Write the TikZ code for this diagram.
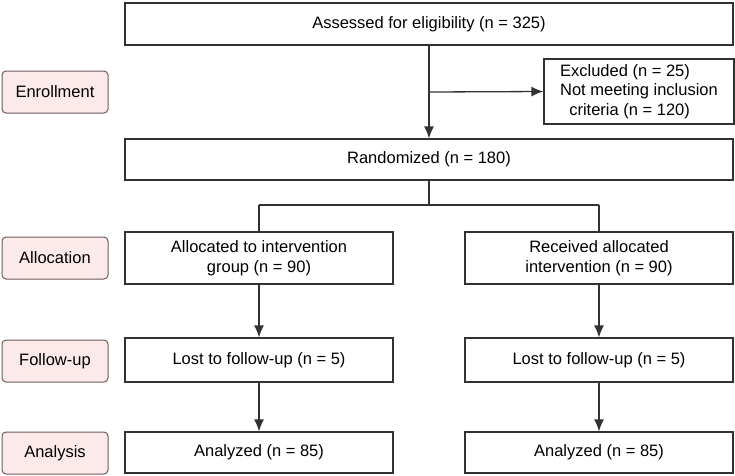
\documentclass[tikz,border=0pt]{standalone}
\usepackage{fontspec}
\setmainfont{Liberation Sans}
\usetikzlibrary{positioning, arrows.meta}
\definecolor{stagefill}{RGB}{252,234,234}
\definecolor{stagedraw}{RGB}{110,90,90}
\definecolor{linegray}{RGB}{50,50,50}

\begin{document}
\begin{tikzpicture}[
    x=1pt, y=-1pt,
    font=\fontsize{16.5}{19.5}\selectfont,
    every node/.style={inner sep=2pt, align=center},
    box/.style={draw=linegray, line width=1.2pt, minimum height=42pt},
    stage/.style={draw=stagedraw, line width=1pt, fill=stagefill, rounded corners=4pt,
                  minimum width=106pt, minimum height=42pt},
    every edge/.append style={line width=1.3pt, draw=linegray, >={Latex[length=12pt,width=10pt]}}
]
   \useasboundingbox (0,0) rectangle (735,475);

   % Stages on the left
   \node[stage] (enroll) at (55,92) {Enrollment};
   \node[stage] (alloc)  at (55,258) {Allocation};
   \node[stage] (follow) at (55,361) {Follow-up};
   \node[stage] (analys) at (55,453) {Analysis};

   % Main boxes
   \node[box, minimum width=608pt] (assess) at (429,24) {Assessed for eligibility (n = 325)};
   \node[box, minimum width=190pt, minimum height=65pt, align=left] (excl) at (639,91.5)
        {Excluded (n = 25)\\Not meeting inclusion\\\ \ criteria (n = 120)};
   \node[box, minimum width=608pt, minimum height=41pt] (rand) at (429,159.5) {Randomized (n = 180)};

   \node[box, minimum width=268pt, minimum height=52pt] (allocL) at (259,258)
        {Allocated to intervention\\group (n = 90)};
   \node[box, minimum width=268pt, minimum height=52pt] (allocR) at (599,258)
        {Received allocated\\intervention (n = 90)};
   \node[box, minimum width=268pt, minimum height=44pt] (lostL) at (259,360) {Lost to follow-up (n = 5)};
   \node[box, minimum width=268pt, minimum height=44pt] (lostR) at (599,360) {Lost to follow-up (n = 5)};
   \node[box, minimum width=268pt, minimum height=41pt] (anaL) at (259,452.5) {Analyzed (n = 85)};
   \node[box, minimum width=268pt, minimum height=41pt] (anaR) at (599,452.5) {Analyzed (n = 85)};

   \coordinate (branch) at (429,92);
   \coordinate (split) at (429,205);
   \coordinate (splitL) at (259,205);
   \coordinate (splitR) at (599,205);

   % Transitions
   \path[->]
   (assess) edge (rand)
   (branch) edge (excl.west)
   (allocL) edge (lostL)
   (allocR) edge (lostR)
   (lostL) edge (anaL)
   (lostR) edge (anaR);

   \path
   (rand) edge (split)
   (splitL) edge (splitR)
   (splitL) edge (allocL)
   (splitR) edge (allocR);
\end{tikzpicture}
\end{document}
